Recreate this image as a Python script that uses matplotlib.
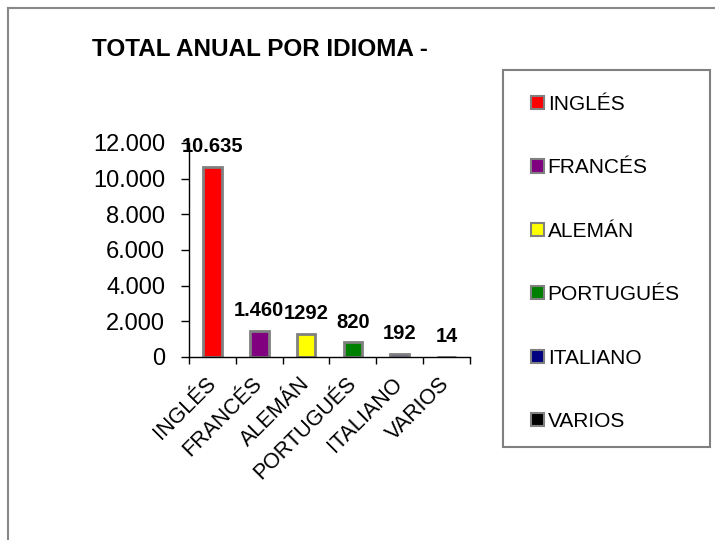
import matplotlib.pyplot as plt
from matplotlib.lines import Line2D
from matplotlib.patches import Patch, Rectangle
from matplotlib.ticker import FuncFormatter, FixedLocator

plt.rcParams['font.family'] = ['Liberation Sans', 'DejaVu Sans']

idiomas = ['INGLÉS', 'FRANCÉS', 'ALEMÁN', 'PORTUGUÉS', 'ITALIANO', 'VARIOS']
totales = [10635, 1460, 1292, 820, 192, 14]
etiquetas = ['10.635', '1.460', '1292', '820', '192', '14']
colores = ['#FF0000', '#800080', '#FFFF00', '#008000', '#000080', '#000000']
y_ticks = [0, 2000, 4000, 6000, 8000, 10000, 12000]

W, H = 715, 540


def miles(v, pos):
    return '{:,.0f}'.format(v).replace(',', '.')


fig = plt.figure(figsize=(W / 100, H / 100), dpi=100)
ax = fig.add_axes([0.2643, 0.3389, 0.393, 0.3963])

x = list(range(len(idiomas)))
ax.bar(x, totales, width=0.4, color=colores, edgecolor='#808080', linewidth=2)

# etiquetas de datos
for xi, v, t in zip(x, totales, etiquetas):
    ax.annotate(t, (xi, v), xytext=(0, 10.7), textcoords='offset points',
                ha='center', va='baseline', fontsize=14.5, fontweight='bold')

ax.set_xlim(-0.5, len(idiomas) - 0.5)
ax.set_ylim(0, 12000)
ax.set_yticks(y_ticks)
ax.yaxis.set_major_formatter(FuncFormatter(miles))
ax.tick_params(axis='y', labelsize=17, length=6, width=1, pad=11)

ax.set_xticks(x)
ax.set_xticklabels(idiomas, rotation=45, ha='right', va='center',
                   rotation_mode='anchor', fontsize=15.5)
ax.tick_params(axis='x', which='major', length=0, pad=17)
ax.xaxis.set_minor_locator(FixedLocator([i - 0.5 for i in range(len(idiomas) + 1)]))
ax.tick_params(axis='x', which='minor', length=5, width=1, direction='out')

for s in ['top', 'right']:
    ax.spines[s].set_visible(False)
for s in ['left', 'bottom']:
    ax.spines[s].set_linewidth(1)

fig.text(0.1287, 0.909, 'TOTAL ANUAL POR IDIOMA -', fontsize=17.5,
         fontweight='bold', ha='left', va='center')

# leyenda (sin marco) y su recuadro
handles = [Patch(facecolor=c, edgecolor='#808080', linewidth=1.5) for c in colores]
fig.legend(handles, idiomas, loc='upper left',
           bbox_to_anchor=(531 / W, 1 - 95 / H),
           fontsize=15, frameon=False,
           handlelength=0.6, handleheight=0.6, handletextpad=0.2,
           labelspacing=2.13, borderpad=0, borderaxespad=0)
fig.add_artist(Rectangle((503 / W, 1 - 447 / H), 207 / W, 377 / H,
                         transform=fig.transFigure, fill=False,
                         edgecolor='#808080', linewidth=1.5))

# marco del gráfico
fig.add_artist(Line2D([8 / W, 1.0], [1 - 8 / H, 1 - 8 / H],
                      color='#888888', linewidth=1.5))
fig.add_artist(Line2D([8 / W, 8 / W], [0.0, 1 - 8 / H],
                      color='#888888', linewidth=1.5))

fig.savefig('out.png', dpi=100)
